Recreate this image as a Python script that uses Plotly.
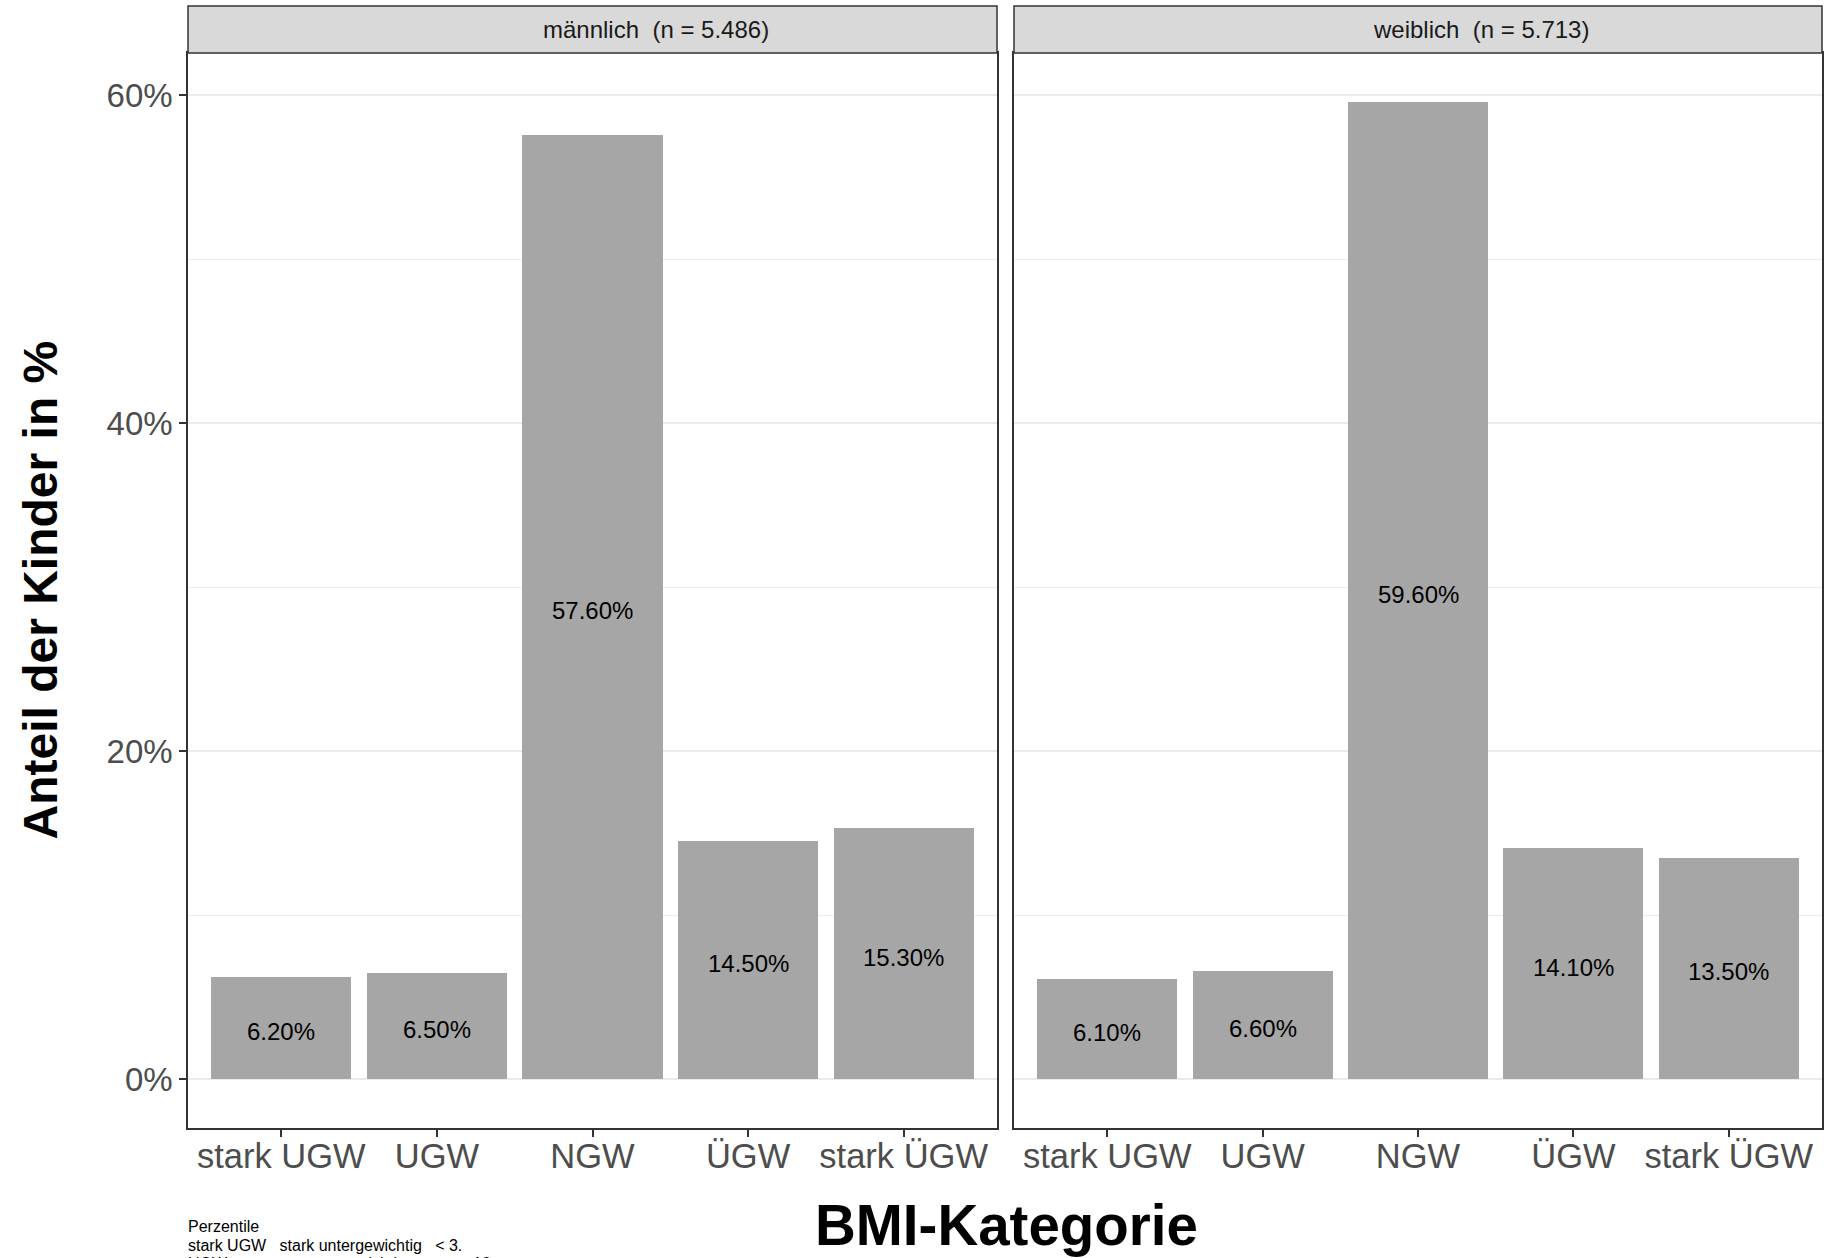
import plotly.graph_objects as go

categories = ["stark UGW", "UGW", "NGW", "ÜGW", "stark ÜGW"]
male_values = [6.2, 6.5, 57.6, 14.5, 15.3]
female_values = [6.1, 6.6, 59.6, 14.1, 13.5]
panel_titles = ["männlich\u00a0\u00a0(n = 5.486)", "weiblich\u00a0\u00a0(n = 5.713)"]
y_ticks = [0, 20, 40, 60]
y_ticktext = ["0%", "20%", "40%", "60%"]
y_minor = [10, 30, 50]
caption_lines = [
    "Perzentile",
    "stark UGW\u00a0\u00a0\u00a0stark untergewichtig\u00a0\u00a0\u00a0< 3.",
    "UGW\u00a0\u00a0\u00a0\u00a0\u00a0\u00a0\u00a0\u00a0\u00a0\u00a0\u00a0\u00a0\u00a0\u00a0\u00a0\u00a0\u00a0untergewichtig\u00a0\u00a0\u00a0\u00a0\u00a0\u00a0\u00a0\u00a0\u00a0\u00a0\u00a0\u00a0< 10.",
]

W, H = 1824, 1258
FONT = "Liberation Sans, Arial, sans-serif"
BAR = "#A6A6A6"
GRID = "#EBEBEB"
DARK = "#333333"

def px_x(v):
    return v / W

def px_y(v):
    return 1 - v / H

panel_x = [(188, 997), (1014, 1822)]
panel_top, panel_bottom = 53, 1128
strip_top = 6
strip_text_offset = 63

fig = go.Figure()
annotations = []
for i, vals in enumerate([male_values, female_values]):
    suffix = "" if i == 0 else "2"
    fig.add_trace(go.Bar(
        x=categories, y=vals,
        xaxis="x" + suffix, yaxis="y" + suffix,
        marker=dict(color=BAR, line=dict(width=0)),
        width=0.9,
        showlegend=False,
    ))
    for c, v in zip(categories, vals):
        annotations.append(dict(
            xref="x" + suffix, yref="y" + suffix, x=c, y=v / 2,
            text=f"{v:.2f}%", showarrow=False, xanchor="center", yanchor="middle",
            yshift=-3.5,
            font=dict(family=FONT, size=24, color="#000000"),
        ))

yrange = [-2.98, 62.58]
xrange = [-0.6, 4.6]
common_x = dict(
    type="category", range=xrange, showgrid=False, zeroline=False,
    showline=True, linecolor=DARK, linewidth=1.5, mirror=True,
    ticks="outside", ticklen=7, tickwidth=1.5, tickcolor=DARK,
    tickfont=dict(family=FONT, size=34.5, color="#4D4D4D"),
    ticklabelstandoff=-10,
)
common_y = dict(
    range=yrange, tickvals=y_ticks, zeroline=False,
    showgrid=True, gridcolor=GRID, gridwidth=2,
    minor=dict(tickvals=y_minor, showgrid=True, gridcolor=GRID, gridwidth=1, ticks=""),
    showline=True, linecolor=DARK, linewidth=1.5, mirror=True,
    domain=[px_y(panel_bottom), px_y(panel_top)],
)

fig.update_layout(
    width=W, height=H,
    margin=dict(l=0, r=0, t=0, b=0),
    paper_bgcolor="white", plot_bgcolor="white",
    bargap=0,
    xaxis=dict(common_x, domain=[px_x(panel_x[0][0]), px_x(panel_x[0][1])], anchor="y"),
    xaxis2=dict(common_x, domain=[px_x(panel_x[1][0]), px_x(panel_x[1][1])], anchor="y2"),
    yaxis=dict(common_y, anchor="x", ticktext=y_ticktext, showticklabels=True,
               ticks="outside", ticklen=7, tickwidth=1.5, tickcolor=DARK,
               tickfont=dict(family=FONT, size=33, color="#4D4D4D")),
    yaxis2=dict(common_y, anchor="x2", showticklabels=False, ticks=""),
)

shapes = []
for (x0, x1), title in zip(panel_x, panel_titles):
    shapes.append(dict(
        type="rect", xref="paper", yref="paper",
        x0=px_x(x0), x1=px_x(x1), y0=px_y(panel_top), y1=px_y(strip_top),
        fillcolor="#D9D9D9", line=dict(color=DARK, width=1.5), layer="above",
    ))
    annotations.append(dict(
        xref="paper", yref="paper",
        x=px_x((x0 + x1) / 2 + strip_text_offset), y=px_y((panel_top + strip_top) / 2),
        text=title, showarrow=False, xanchor="center", yanchor="middle",
        font=dict(family=FONT, size=24, color="#1A1A1A"),
    ))

annotations.append(dict(
    xref="paper", yref="paper", x=px_x(40), y=px_y((panel_top + panel_bottom) / 2),
    text="<b>Anteil der Kinder in %</b>", textangle=-90, showarrow=False,
    xanchor="center", yanchor="middle",
    font=dict(family=FONT, size=48, color="#000000"),
))
annotations.append(dict(
    xref="paper", yref="paper", x=px_x(1006), y=px_y(1225),
    text="<b>BMI-Kategorie</b>", showarrow=False,
    xanchor="center", yanchor="middle",
    font=dict(family=FONT, size=56.5, color="#000000"),
))
for k, line in enumerate(caption_lines):
    annotations.append(dict(
        xref="paper", yref="paper", x=px_x(186), y=px_y(1226 + k * 19),
        text=line, showarrow=False, xanchor="left", yanchor="middle",
        font=dict(family=FONT, size=16, color="#000000"),
    ))

fig.update_layout(shapes=shapes, annotations=annotations)
fig.write_html(
    "out.html",
    config={"displayModeBar": False},
    post_script="document.body.style.margin='0';document.body.style.overflow='hidden';",
)
